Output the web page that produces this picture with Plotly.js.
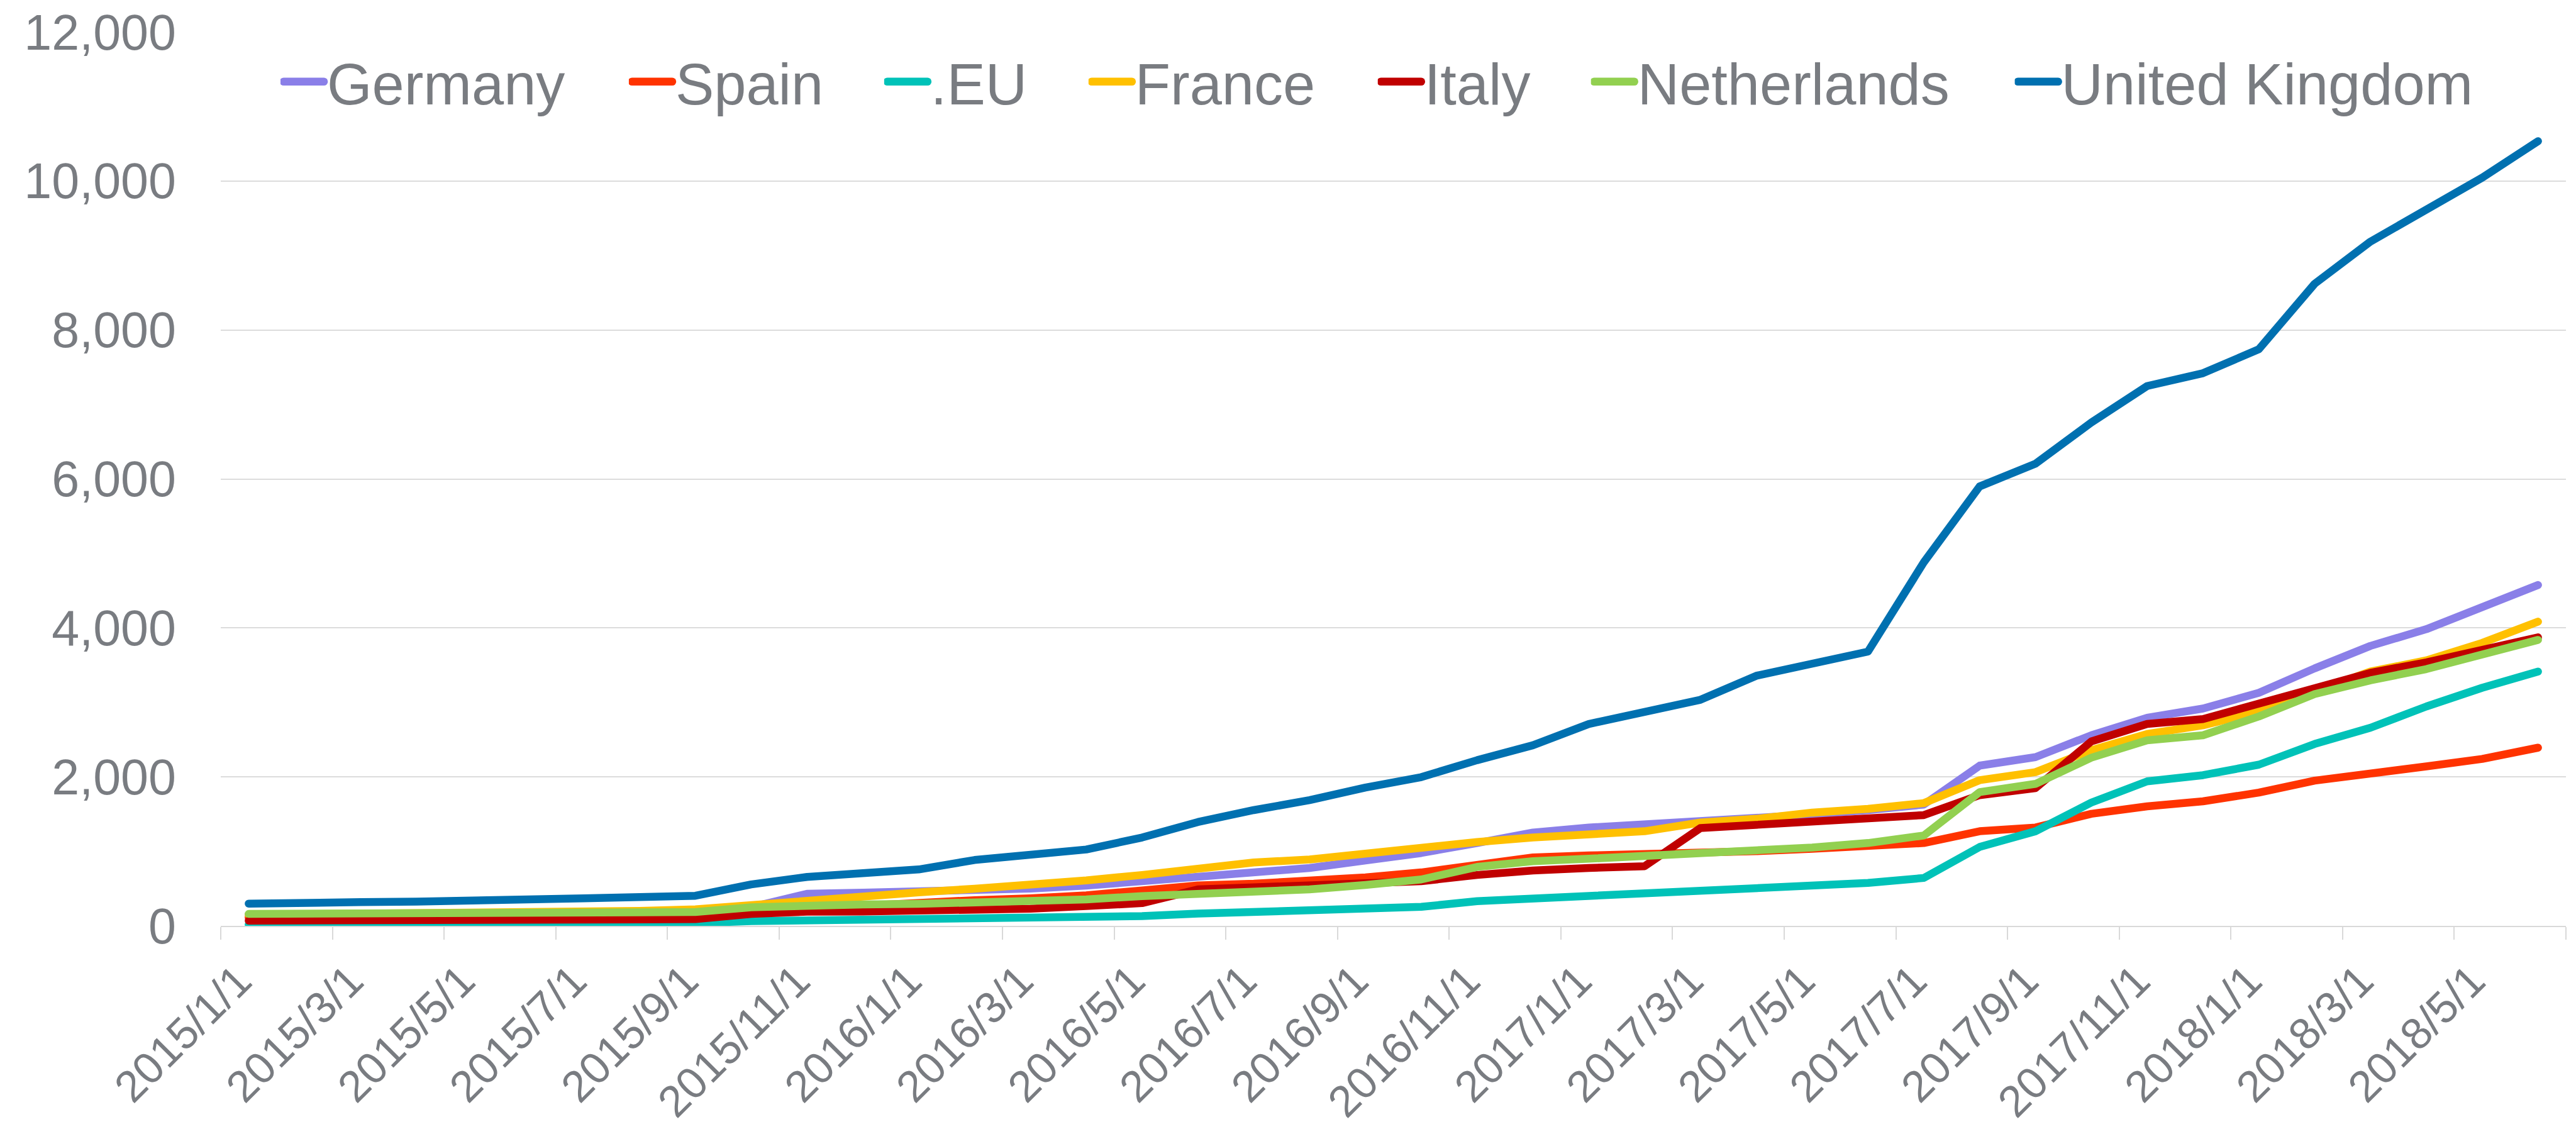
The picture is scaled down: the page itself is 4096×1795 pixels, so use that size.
<!DOCTYPE html>
<html><head><meta charset="utf-8">
<script src="https://cdn.plot.ly/plotly-3.0.1.min.js"></script>
<style>html,body{margin:0;padding:0;background:#fff;overflow:hidden}#chart{width:4096px;height:1795px}</style>
</head><body><div id="chart"></div>
<script>
const months = [
  '2015/1/1','2015/2/1','2015/3/1','2015/4/1','2015/5/1','2015/6/1','2015/7/1','2015/8/1','2015/9/1','2015/10/1','2015/11/1','2015/12/1',
  '2016/1/1','2016/2/1','2016/3/1','2016/4/1','2016/5/1','2016/6/1','2016/7/1','2016/8/1','2016/9/1','2016/10/1','2016/11/1','2016/12/1',
  '2017/1/1','2017/2/1','2017/3/1','2017/4/1','2017/5/1','2017/6/1','2017/7/1','2017/8/1','2017/9/1','2017/10/1','2017/11/1','2017/12/1',
  '2018/1/1','2018/2/1','2018/3/1','2018/4/1','2018/5/1','2018/6/1'
];
const germany = [150,150,152,155,158,160,165,170,175, 250,430,445,456,470,500,540,600, 667,717,777,878,978,1112,1253,1320, 1360,1394,1437,1494,1554,1628,2151,2265,2559, 2794,2918,3129,3457,3759,3983,4285,4576];
const spain = [110,110,112,115,118,120,125,130,140, 200,230,270,330,345,370,409,476, 543,566,600,650,717,817,918,945, 960,985,1002,1035,1069,1112,1270,1320,1504, 1605,1672,1789,1950,2057,2141,2241,2392];
const eu = [20,20,22,24,26,28,30,32,35, 64,74,80,87,97,107,114,131, 164,181,198,214,255,332,365,409, 432,476,523,549,576,643,1059,1270,1655, 1940,2023,2164,2442,2660,2945,3196,3414];
const france = [150,155,160,170,175,180,190,200,221, 281,350,399,449,499,543,610,683, 767,851,891,978,1052,1126,1186,1236, 1270,1387,1437,1521,1571,1648,1956,2064,2358, 2576,2693,2878,3136,3414,3564,3799,4084];
const italy = [70,70,72,74,76,78,80,85,90, 160,190,192,198,214,231,265,305, 489,516,543,566,600,683,744,777, 801,1313,1353,1394,1427,1487,1755,1849,2476, 2710,2777,2978,3203,3397,3538,3715,3873];
const netherlands = [160,160,162,165,168,170,175,180,185, 250,281,288,295,308,322,355,399, 422,449,489,549,623,791,868,901, 935,958,1002,1052,1112,1213,1796,1906,2258, 2492,2559,2811,3112,3296,3447,3631,3839];
const uk = [298,298,318,325,332,352,370,387,404, 556,657,707,757,884,945,1025,1186, 1394,1554,1688,1856,1997,2224,2425,2710, 2878,3035,3357,3531,3682,4881,5900,6205,6758, 7248,7420,7742,8621,9187,9627,10045,10535];

const seriesNames = ['Germany','Spain','.EU','France','Italy','Netherlands','United Kingdom'];
const seriesValues = [germany, spain, eu, france, italy, netherlands, uk];
const seriesColors = ['#8A7FE8','#FF3300','#00C2B8','#FFC000','#C00000','#92D050','#0070B0'];

const W = 4096, H = 1795;
const mL = 351, mR = 15.5, mT = 50.6, mB = 323;
const plotW = W - mL - mR, plotH = H - mT - mB;
const textGray = '#797C81';
const fontFam = 'Liberation Sans, Arial, sans-serif';
const LINE_W = 12.5;

// legend entry symbol starts (px) and vertical centre (px)
const legendSymbolPx = [451, 1005, 1411, 1736, 2196, 2535, 3209];
const legendCenterY = 129.6;

const traces = seriesNames.map((n, i) => ({
  type: 'scatter', mode: 'lines', name: n,
  x: months, y: seriesValues[i],
  line: {color: seriesColors[i], width: LINE_W},
  legend: i === 0 ? 'legend' : 'legend' + (i + 1),
  hoverinfo: 'skip'
}));

const layout = {
  width: W, height: H,
  margin: {l: mL, r: mR, t: mT, b: mB, pad: 0},
  paper_bgcolor: '#ffffff', plot_bgcolor: '#ffffff',
  font: {family: fontFam, color: textGray},
  showlegend: true,
  xaxis: {
    type: 'category', range: [-0.5, months.length - 0.5],
    tickmode: 'linear', tick0: 0, dtick: 2, tickson: 'boundaries',
    ticks: 'outside', ticklen: 20, tickwidth: 2, tickcolor: '#D9D9D9',
    showline: true, linecolor: '#D9D9D9', linewidth: 2,
    showgrid: false, zeroline: false,
    tickangle: -45, tickfont: {size: 70, color: textGray, family: fontFam},
    ticklabelstandoff: 16, ticklabelshift: -16,
    fixedrange: true
  },
  yaxis: {
    range: [0, 12000], tickmode: 'linear', tick0: 0, dtick: 2000,
    tickformat: ',d', ticks: '', showline: false, zeroline: false,
    showgrid: true, gridcolor: '#DCDCDC', gridwidth: 2,
    tickfont: {size: 79, color: textGray, family: fontFam},
    ticklabelstandoff: 70,
    fixedrange: true
  }
};
const legendY = (H - mB - legendCenterY) / plotH;
seriesNames.forEach((n, i) => {
  const key = i === 0 ? 'legend' : 'legend' + (i + 1);
  layout[key] = {
    x: (legendSymbolPx[i] - 5 - mL) / plotW, xanchor: 'left',
    y: legendY, yanchor: 'middle',
    orientation: 'h', bgcolor: 'rgba(0,0,0,0)', borderwidth: 0,
    font: {size: 92, color: textGray, family: fontFam},
    itemwidth: 64, itemclick: false, itemdoubleclick: false
  };
});
Plotly.newPlot('chart', traces, layout, {staticPlot: true, displayModeBar: false}).then(gd => {
  // Excel-style round line ends and full-thickness legend keys
  gd.querySelectorAll('.scatterlayer .js-line').forEach(p => {
    p.style.strokeLinecap = 'round'; p.style.strokeLinejoin = 'round';
  });
  gd.querySelectorAll('.legendlines path').forEach(p => {
    p.style.strokeWidth = '12.6px'; p.style.strokeLinecap = 'round';
  });
});
</script>
</body></html>
